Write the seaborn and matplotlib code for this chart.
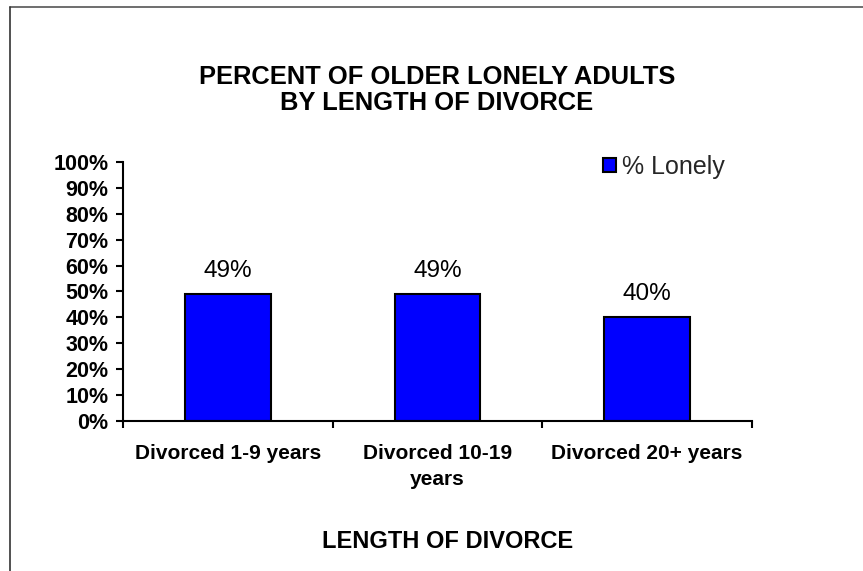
import matplotlib
matplotlib.use("Agg")
import matplotlib.pyplot as plt
from matplotlib.lines import Line2D
from matplotlib.patches import Patch
from matplotlib.ticker import FixedLocator, PercentFormatter
import seaborn as sns
import pandas as pd

categories = ["Divorced 1-9 years", "Divorced 10-19\nyears", "Divorced 20+ years"]
pct_lonely = [49, 49, 40]
series_name = "% Lonely"
y_ticks = list(range(0, 101, 10))

sns.set_theme(style="white")
plt.rcParams["font.family"] = ["Liberation Sans", "DejaVu Sans"]

df = pd.DataFrame({"category": categories, "value": pct_lonely})

fig = plt.figure(figsize=(8.63, 5.71), dpi=100)
ax = fig.add_axes([0.1425, 0.2627, 0.7289, 0.4536])

sns.barplot(data=df, x="category", y="value", ax=ax, color="#0000FF",
            width=0.41, edgecolor="black", linewidth=1.5, saturation=1)

ax.set_xlim(-0.5, len(categories) - 0.5)
ax.set_ylim(0, 100)
ax.set_yticks(y_ticks)
ax.yaxis.set_major_formatter(PercentFormatter(decimals=0))
for lbl in ax.get_yticklabels():
    lbl.set_fontweight("bold")
    lbl.set_fontsize(15.5)
ax.tick_params(axis="y", direction="out", length=5, width=1.5, color="black",
               left=True, pad=5.5, labelcolor="black")

# category boundary ticks on the x axis
ax.tick_params(axis="x", which="major", length=0, pad=16.5, labelsize=15,
               labelcolor="black")
for lbl in ax.get_xticklabels():
    lbl.set_fontweight("bold")
    lbl.set_linespacing(1.5)
ax.xaxis.set_minor_locator(FixedLocator([i - 0.5 for i in range(len(categories) + 1)]))
ax.tick_params(axis="x", which="minor", direction="out", length=5, width=1.5,
               color="black", bottom=True)

for side in ["top", "right"]:
    ax.spines[side].set_visible(False)
for side in ["left", "bottom"]:
    ax.spines[side].set_color("black")
    ax.spines[side].set_linewidth(1.5)

for i, v in enumerate(pct_lonely):
    ax.annotate(f"{v}%", (i, v), xytext=(0, 12.2), textcoords="offset points",
                ha="center", va="baseline", fontsize=17.5, color="black")

ax.set_ylabel("")
ax.set_xlabel("LENGTH OF DIVORCE", fontsize=17, fontweight="bold",
              color="black", va="top")
ax.xaxis.set_label_coords(0.516, -0.42)

fig.text(0.5064, 0.842, "PERCENT OF OLDER LONELY ADULTS\nBY LENGTH OF DIVORCE",
         ha="center", va="center", fontsize=18.4, fontweight="bold",
         linespacing=1.12, color="black")

ax.legend(handles=[Patch(facecolor="#0000FF", edgecolor="black", linewidth=1.5,
                         label=series_name)],
          loc="upper left", bbox_to_anchor=(0.744, 1.0756), frameon=False,
          fontsize=18, handlelength=0.5, handleheight=0.5,
          handletextpad=0.25, borderpad=0)

# chart-area frame along the top and left edges
fig.add_artist(Line2D([0.0116, 1.0], [0.988, 0.988], transform=fig.transFigure,
                      color="#555555", linewidth=1.2))
fig.add_artist(Line2D([0.0116, 0.0116], [0.0, 0.988], transform=fig.transFigure,
                      color="#333333", linewidth=1.2))

fig.savefig("out.png", dpi=100, facecolor="white")
